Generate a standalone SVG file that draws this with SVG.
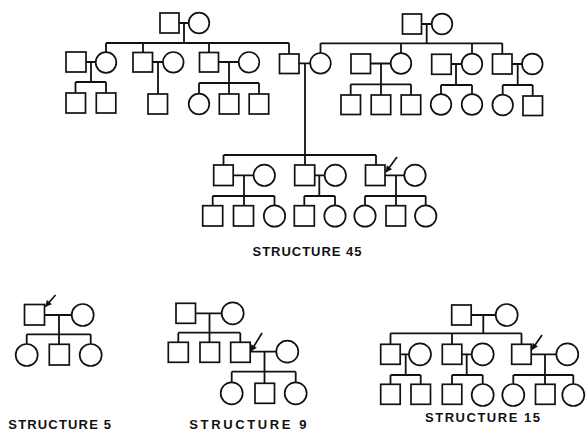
<svg xmlns="http://www.w3.org/2000/svg" width="588" height="438" viewBox="0 0 588 438">
<defs>
<style>
.m{fill:#fff;stroke:#111;stroke-width:1.7}
.f{fill:#fff;stroke:#111;stroke-width:1.7}
.c path{fill:none;stroke:#111;stroke-width:1.8}
.a{stroke:#111;stroke-width:1.7;fill:none}
.t{font-family:"Liberation Sans",Arial,sans-serif;font-weight:bold;font-size:13px;fill:#111}
</style>
<marker id="ah" viewBox="0 0 10 10" refX="9" refY="5" markerWidth="7.5" markerHeight="6.5" markerUnits="userSpaceOnUse" orient="auto">
<path d="M0,0 L10,5 L0,10 Z" fill="#111"/>
</marker>
</defs>
<rect width="588" height="438" fill="#fff"/>

<g id="connectors" class="c">
<!-- Structure 45 top-left family -->
<path d="M179 23H188.7M184 23V43M106 43H289"/>
<path d="M106 43V52.2M86 62H95.7M91 62V82M75.5 82H106M75.5 82V93M106 82V93"/>
<path d="M143 43V52.5M152.5 62H163M158 62V94"/>
<path d="M209 43V52.5M218.5 62H238.7M229 62V83M199 83H259M199 83V93.7M229 83V94M259 83V94"/>
<path d="M289 43V54"/>
<!-- top-right family -->
<path d="M421.5 24H431.7M426.7 24V43.3M320.5 43.3H502.3"/>
<path d="M320.5 43.3V53M299 63.3H310.2M305 63.3V155"/>
<path d="M401 43.3V53.2M370.5 63.5H390.7M381 63.5V84.3M350.7 84.3H411M350.7 84.3V95M381 84.3V95M411 84.3V95"/>
<path d="M472 43.3V53.7M451.2 64H461.7M456 64V85M441 85H472M441 85V94.2M472 85V94.2"/>
<path d="M502.3 43.3V54M512 64H522M517.7 64V85M502.7 85H532.7M502.7 85V94.7M532.7 85V96"/>
<!-- generation 3 -->
<path d="M223.5 155H376M223.5 155V165M305 155V165M376 155V165"/>
<path d="M233.2 175.3H253.6M244 175.3V196M212.7 196H274.5M212.7 196V205.7M244 196V205.7M274.5 196V205.3"/>
<path d="M314.7 175.3H324.6M319.3 175.3V196M304.3 196H335M304.3 196V205.7M335 196V205.3"/>
<path d="M385 175.3H404.3M396 175.3V196M365 196H425.7M365 196V205.3M396 196V205.7M425.7 196V205.3"/>
<!-- Structure 5 -->
<path d="M44.5 315H71.7M59 315V334.3M26.7 334.3H90.7M26.7 334.3V344M59 334.3V344.3M90.7 334.3V344"/>
<!-- Structure 9 -->
<path d="M195.5 313.3H221.7M209.5 313.3V332.7M178.3 332.7H240.3M178.3 332.7V342.3M209.5 332.7V342.3M240.3 332.7V342.3"/>
<path d="M250.2 351.7H276.3M264.5 351.7V371.7M231.7 371.7H295.7M231.7 371.7V382.3M264.5 371.7V383.3M295.7 371.7V382.3"/>
<!-- Structure 15 -->
<path d="M471.2 315H495.7M483.3 315V333.3M390.5 333.3H521.5M390.5 333.3V344.3M452 333.3V344.3M521.5 333.3V344.3"/>
<path d="M400.2 354.3H409M405.7 354.3V375M390.5 375H420.7M390.5 375V384.3M420.7 375V384.3"/>
<path d="M461.8 354.3H471.7M466.7 354.3V375M452 375H482.7M452 375V384.3M482.7 375V384"/>
<path d="M531.2 354.3H556.3M545 354.3V375M513.3 375H573.3M513.3 375V384M545 375V384.3M573.3 375V384"/>
<!-- proband arrows -->
<line class="a" x1="397" y1="157" x2="386" y2="172" marker-end="url(#ah)"/>
<line class="a" x1="55.5" y1="295" x2="45.5" y2="306.5" marker-end="url(#ah)"/>
<line class="a" x1="262" y1="333" x2="251" y2="351" marker-end="url(#ah)"/>
<line class="a" x1="542" y1="335" x2="532" y2="349.5" marker-end="url(#ah)"/>
</g>

<!-- Structure 45: top-left grandparents -->
<g id="s45_gp1_m"><rect class="m" x="160" y="13" width="19" height="20"/></g>
<g id="s45_gp1_f"><circle class="f" cx="199" cy="23" r="10.3"/></g>
<g id="s45_a_spouse"><rect class="m" x="66" y="52" width="20" height="20"/></g>
<g id="s45_a"><circle class="f" cx="106" cy="62.5" r="10.3"/></g>
<g id="s45_a_k1"><rect class="m" x="66" y="93" width="19.5" height="20"/></g>
<g id="s45_a_k2"><rect class="m" x="96.3" y="93" width="19.5" height="20"/></g>
<g id="s45_b"><rect class="m" x="133" y="52.5" width="19.5" height="19.5"/></g>
<g id="s45_b_spouse"><circle class="f" cx="173.3" cy="62.3" r="10.3"/></g>
<g id="s45_b_k1"><rect class="m" x="148" y="94" width="19.5" height="20"/></g>
<g id="s45_c"><rect class="m" x="199.5" y="52.5" width="19" height="19.5"/></g>
<g id="s45_c_spouse"><circle class="f" cx="249" cy="62.3" r="10.3"/></g>
<g id="s45_c_k1"><circle class="f" cx="199" cy="104" r="10.3"/></g>
<g id="s45_c_k2"><rect class="m" x="219.3" y="94" width="19.5" height="20"/></g>
<g id="s45_c_k3"><rect class="m" x="249.2" y="94" width="19.5" height="20"/></g>
<!-- middle couple -->
<g id="s45_mid_m"><rect class="m" x="279.5" y="54" width="19.5" height="19.5"/></g>
<g id="s45_mid_f"><circle class="f" cx="320.5" cy="63.3" r="10.3"/></g>
<!-- top-right grandparents -->
<g id="s45_gp2_m"><rect class="m" x="402.5" y="14" width="19" height="20"/></g>
<g id="s45_gp2_f"><circle class="f" cx="442" cy="24" r="10.3"/></g>
<g id="s45_d_spouse"><rect class="m" x="351" y="54" width="19.5" height="19.5"/></g>
<g id="s45_d"><circle class="f" cx="401" cy="63.5" r="10.3"/></g>
<g id="s45_d_k1"><rect class="m" x="341" y="95" width="19.5" height="19.5"/></g>
<g id="s45_d_k2"><rect class="m" x="371.2" y="95" width="19.5" height="19.5"/></g>
<g id="s45_d_k3"><rect class="m" x="401.2" y="95" width="19.5" height="19.5"/></g>
<g id="s45_e_spouse"><rect class="m" x="431.7" y="54.3" width="19.5" height="20"/></g>
<g id="s45_e"><circle class="f" cx="472" cy="64" r="10.3"/></g>
<g id="s45_e_k1"><circle class="f" cx="441" cy="104.5" r="10.3"/></g>
<g id="s45_e_k2"><circle class="f" cx="472" cy="104.5" r="10.3"/></g>
<g id="s45_f"><rect class="m" x="492.5" y="54" width="19.5" height="20"/></g>
<g id="s45_f_spouse"><circle class="f" cx="532.3" cy="64" r="10.3"/></g>
<g id="s45_f_k1"><circle class="f" cx="502.7" cy="105" r="10.3"/></g>
<g id="s45_f_k2"><rect class="m" x="523" y="96" width="19.5" height="19.5"/></g>
<!-- generation 3 -->
<g id="s45_g"><rect class="m" x="213.7" y="165" width="19.5" height="20.5"/></g>
<g id="s45_g_spouse"><circle class="f" cx="264.3" cy="175.3" r="10.7"/></g>
<g id="s45_g_k1"><rect class="m" x="202.7" y="205.7" width="20" height="20.3"/></g>
<g id="s45_g_k2"><rect class="m" x="233.5" y="205.7" width="20" height="20.3"/></g>
<g id="s45_g_k3"><circle class="f" cx="274.5" cy="216" r="10.7"/></g>
<g id="s45_h"><rect class="m" x="294.7" y="165" width="20" height="20.5"/></g>
<g id="s45_h_spouse"><circle class="f" cx="335.3" cy="175.3" r="10.7"/></g>
<g id="s45_h_k1"><rect class="m" x="294.3" y="205.7" width="20" height="20.3"/></g>
<g id="s45_h_k2"><circle class="f" cx="335" cy="216" r="10.7"/></g>
<g id="s45_i"><rect class="m" x="365.5" y="165" width="19.5" height="20.5"/></g>
<g id="s45_i_spouse"><circle class="f" cx="415" cy="175.3" r="10.7"/></g>
<g id="s45_i_k1"><circle class="f" cx="365" cy="216" r="10.7"/></g>
<g id="s45_i_k2"><rect class="m" x="386" y="205.7" width="19.5" height="20.3"/></g>
<g id="s45_i_k3"><circle class="f" cx="425.7" cy="216" r="10.7"/></g>
<text class="t" x="252.5" y="255.7" textLength="109" lengthAdjust="spacing">STRUCTURE 45</text>

<!-- Structure 5 -->
<g id="s5_m"><rect class="m" x="24.5" y="304.5" width="20" height="20.5"/></g>
<g id="s5_f"><circle class="f" cx="82.7" cy="315" r="11"/></g>
<g id="s5_k1"><circle class="f" cx="26.7" cy="355" r="11"/></g>
<g id="s5_k2"><rect class="m" x="49.3" y="344.3" width="20" height="20.7"/></g>
<g id="s5_k3"><circle class="f" cx="90.7" cy="355" r="11"/></g>
<text class="t" x="8.3" y="429.3" textLength="102.7" lengthAdjust="spacing">STRUCTURE 5</text>

<!-- Structure 9 -->
<g id="s9_gp_m"><rect class="m" x="176" y="303.3" width="19.5" height="20"/></g>
<g id="s9_gp_f"><circle class="f" cx="232.7" cy="313.3" r="11"/></g>
<g id="s9_c1"><rect class="m" x="168.3" y="342.3" width="20" height="20"/></g>
<g id="s9_c2"><rect class="m" x="200" y="342.3" width="19.5" height="20"/></g>
<g id="s9_c3"><rect class="m" x="230.7" y="342.3" width="19.5" height="20"/></g>
<g id="s9_c3_spouse"><circle class="f" cx="287.3" cy="351.7" r="11"/></g>
<g id="s9_k1"><circle class="f" cx="231.7" cy="393.3" r="11"/></g>
<g id="s9_k2"><rect class="m" x="255" y="383.3" width="19.5" height="20"/></g>
<g id="s9_k3"><circle class="f" cx="295.7" cy="393.3" r="11"/></g>
<text class="t" x="189.3" y="429.3" textLength="117.3" lengthAdjust="spacing">STRUCTURE 9</text>

<!-- Structure 15 -->
<g id="s15_gp_m"><rect class="m" x="451.7" y="305" width="19.5" height="20"/></g>
<g id="s15_gp_f"><circle class="f" cx="506.7" cy="315" r="11"/></g>
<g id="s15_a"><rect class="m" x="380.7" y="344.3" width="19.5" height="20"/></g>
<g id="s15_a_spouse"><circle class="f" cx="420" cy="354.3" r="11"/></g>
<g id="s15_a_k1"><rect class="m" x="380.7" y="384.3" width="19.5" height="20"/></g>
<g id="s15_a_k2"><rect class="m" x="411" y="384.3" width="19.5" height="20"/></g>
<g id="s15_b"><rect class="m" x="442.3" y="344.3" width="19.5" height="20"/></g>
<g id="s15_b_spouse"><circle class="f" cx="482.7" cy="354.3" r="11"/></g>
<g id="s15_b_k1"><rect class="m" x="442.3" y="384.3" width="19.5" height="20"/></g>
<g id="s15_b_k2"><circle class="f" cx="482.7" cy="395" r="11"/></g>
<g id="s15_c"><rect class="m" x="511.7" y="344.3" width="19.5" height="20"/></g>
<g id="s15_c_spouse"><circle class="f" cx="567.3" cy="354.3" r="11"/></g>
<g id="s15_c_k1"><circle class="f" cx="513.3" cy="395" r="11"/></g>
<g id="s15_c_k2"><rect class="m" x="535.5" y="384.3" width="19.5" height="20"/></g>
<g id="s15_c_k3"><circle class="f" cx="573.3" cy="395" r="11"/></g>
<text class="t" x="425" y="422.3" textLength="115" lengthAdjust="spacing">STRUCTURE 15</text>
</svg>
